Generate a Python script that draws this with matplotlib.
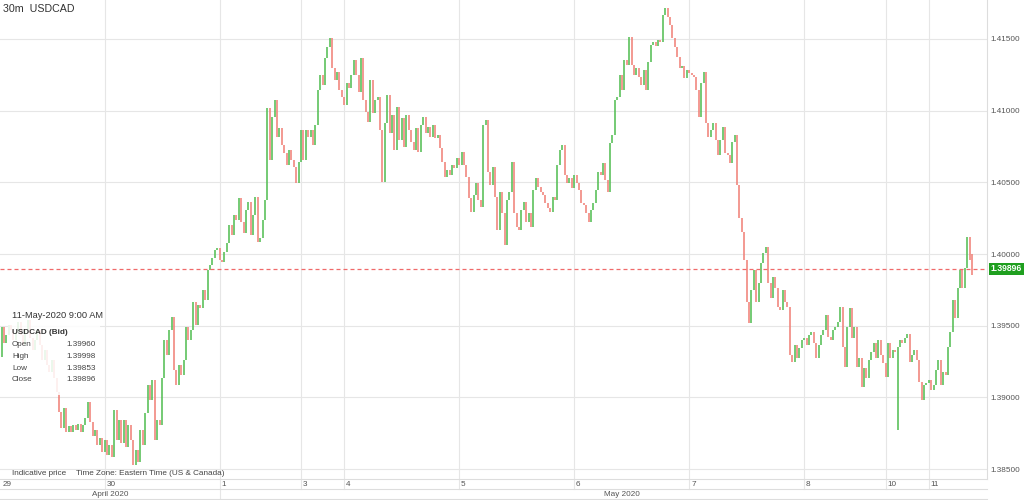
import numpy as np
import matplotlib.pyplot as plt
from matplotlib.patches import Rectangle
from matplotlib.ticker import FormatStrFormatter
from matplotlib.transforms import blended_transform_factory

plt.rcParams['font.family'] = ['Liberation Sans', 'DejaVu Sans']

# ---- 30 minute USDCAD bid closes, one list per trading day ----
apr29 = [1.39491, 1.39381, 1.39435, 1.39505, 1.3947, 1.39402, 1.39456, 1.39526, 1.39435, 1.39367,
         1.3947, 1.3954, 1.39414, 1.39332, 1.39402, 1.3947, 1.39367, 1.39262, 1.39332, 1.39227,
         1.39178, 1.39262, 1.39136, 1.39038, 1.38899, 1.38787, 1.38926, 1.38759, 1.38801, 1.38759,
         1.38808, 1.38773, 1.38815, 1.38759, 1.38808, 1.38857, 1.38968, 1.38829, 1.38731, 1.38773,
         1.38668, 1.38717, 1.38619]
apr30 = [1.38703, 1.38598, 1.38668, 1.38584, 1.38913, 1.38703, 1.38843, 1.38682, 1.38843, 1.38654,
         1.38808, 1.38703, 1.38528, 1.38633, 1.38549, 1.38773, 1.38668, 1.38892, 1.39087, 1.38982,
         1.39122, 1.38703, 1.38843, 1.38808, 1.39136, 1.39402, 1.39297, 1.3947, 1.39561, 1.39192,
         1.39087, 1.39227, 1.39157, 1.39262, 1.39491, 1.39402, 1.3947, 1.39666, 1.39505, 1.39645,
         1.39624, 1.3975, 1.3968, 1.3989, 1.39923, 1.39972, 1.40028, 1.40042]
may1 = [1.39958, 1.39944, 1.40014, 1.40077, 1.40203, 1.40133, 1.40273, 1.40238, 1.4039, 1.40224,
        1.40147, 1.40308, 1.40364, 1.40133, 1.40273, 1.40397, 1.40084, 1.40112, 1.40238, 1.40376,
        1.41018, 1.40656, 1.40955, 1.41074, 1.40817, 1.40878, 1.40761, 1.40705, 1.40621, 1.40726,
        1.40656, 1.40607, 1.40495, 1.40642]
may3 = [1.40865, 1.40656, 1.40865, 1.40817, 1.40865, 1.40761, 1.40899, 1.41144, 1.41249, 1.41179,
        1.41367, 1.41444, 1.41507, 1.41298, 1.41214, 1.4127, 1.41144, 1.41096]
may4 = [1.4104, 1.41193, 1.41158, 1.41249, 1.41354, 1.41249, 1.4113, 1.41367, 1.41074, 1.40991,
        1.40921, 1.41214, 1.40984, 1.41074, 1.41096, 1.40865, 1.40503, 1.40914, 1.4111, 1.40844,
        1.4097, 1.40726, 1.41026, 1.40796, 1.40949, 1.40747, 1.4097, 1.40865, 1.40782, 1.40726,
        1.40879, 1.40712, 1.409, 1.40956, 1.40844, 1.40886, 1.40817, 1.409, 1.4081, 1.40831,
        1.4074, 1.40642, 1.40538, 1.40586, 1.40552, 1.40621, 1.406, 1.4067]
may5 = [1.40621, 1.40712, 1.40621, 1.40538, 1.40391, 1.40294, 1.40412, 1.40496, 1.40377, 1.40328,
        1.409, 1.40935, 1.40573, 1.40482, 1.40607, 1.40398, 1.40168, 1.40433, 1.40287, 1.40063,
        1.40377, 1.40433, 1.40642, 1.40287, 1.40189, 1.40168, 1.40307, 1.40363, 1.40224, 1.40287,
        1.40189, 1.40447, 1.40531, 1.40468, 1.40433, 1.40412, 1.40356, 1.40321, 1.40294, 1.40398,
        1.40377, 1.40621, 1.40726, 1.40761, 1.40552, 1.40496, 1.40531, 1.40461]
may6 = [1.40552, 1.40496, 1.40447, 1.40356, 1.40342, 1.40287, 1.40224, 1.40307, 1.40356, 1.40447,
        1.40573, 1.40552, 1.40635, 1.40517, 1.40433, 1.40775, 1.40831, 1.41074, 1.41096, 1.41249,
        1.41144, 1.41354, 1.41319, 1.41514, 1.41319, 1.41249, 1.41298, 1.41235, 1.41179, 1.41284,
        1.41144, 1.4134, 1.41458, 1.41479, 1.41451, 1.41493, 1.41479, 1.41667, 1.41716, 1.41653,
        1.41598, 1.41507, 1.41444, 1.41375, 1.41298, 1.41312, 1.41228, 1.41284]
may7 = [1.41263, 1.41249, 1.41235, 1.41144, 1.40956, 1.41193, 1.4127, 1.40914, 1.40817, 1.40865,
        1.40914, 1.40796, 1.40691, 1.40796, 1.40886, 1.40705, 1.40691, 1.40635, 1.40782, 1.40831,
        1.40482, 1.40252, 1.40154, 1.39959, 1.39666, 1.39519, 1.3975, 1.39889, 1.39666, 1.39798,
        1.39938, 1.40008, 1.40049, 1.39798, 1.39694, 1.3984, 1.39764, 1.39631, 1.3961, 1.3975,
        1.39666, 1.39631, 1.39296, 1.39247, 1.39366, 1.39275, 1.39345, 1.39401]
may8 = [1.39415, 1.39366, 1.39436, 1.39457, 1.3938, 1.39275, 1.39366, 1.39436, 1.39471, 1.39575,
        1.39422, 1.39401, 1.39471, 1.39492, 1.39526, 1.39631, 1.39352, 1.39213, 1.39492, 1.39624,
        1.39415, 1.39492, 1.39213, 1.39275, 1.39073, 1.39206, 1.39136, 1.39261, 1.39317, 1.3938,
        1.39275, 1.39401, 1.39296, 1.3924]
may10 = [1.39143, 1.3938, 1.39275, 1.39331, 1.39318, 1.39352, 1.39401, 1.3938, 1.39415, 1.39443,
         1.39247, 1.39296, 1.39331, 1.39261, 1.39108, 1.38982, 1.39087, 1.39101]
may11 = [1.39122, 1.39052, 1.39087, 1.39192, 1.39261, 1.39087, 1.39178, 1.39157, 1.39352, 1.39457,
         1.3968, 1.39554, 1.39764, 1.39889, 1.39764, 1.39903, 1.40119, 1.3996, 1.39896]

first_open = 1.39283
# bars whose range goes beyond open/close
spike_idx = [374, 405]
spike_low = [1.38773, 1.39853]
spike_high = [1.39352, 1.39998]

day_labels = ['29', '30', '1', '3', '4', '5', '6', '7', '8', '10', '11']
day_lists = [apr29, apr30, may1, may3, may4, may5, may6, may7, may8, may10, may11]
month_labels = ['April 2020', 'May 2020']
price_ticks = [1.385, 1.390, 1.395, 1.400, 1.405, 1.410, 1.415]
last_price = 1.39896

# ---- build OHLC ----
close = np.concatenate([np.array(d) for d in day_lists])
opens = np.r_[first_open, close[:-1]]
high = np.maximum(opens, close)
low = np.minimum(opens, close)
for i, lo, hi in zip(spike_idx, spike_low, spike_high):
    low[i] = min(low[i], lo)
    high[i] = max(high[i], hi)
idx = np.arange(len(close))
up = close >= opens
day_start = np.cumsum([0] + [len(d) for d in day_lists[:-1]])

# ---- figure ----
W, H = 1024, 500
fig = plt.figure(figsize=(W / 100, H / 100), dpi=100)
ax = fig.add_axes([0, 21 / H, 987 / W, 479 / H])
x0, x1 = -0.63, 411.3
ax.set_xlim(x0, x1)
ax.set_ylim(1.38431, 1.41772)

grid_c = '#e6e6e6'
ax.set_yticks(price_ticks)
ax.yaxis.set_major_formatter(FormatStrFormatter('%.5f'))
ax.yaxis.tick_right()
ax.tick_params(axis='y', length=0, pad=2.5, labelsize=5.9, labelcolor='#555555')
ax.set_xticks([])
ax.grid(axis='y', color=grid_c, lw=0.8)
for s in ['top', 'left']:
    ax.spines[s].set_visible(False)
for s in ['bottom', 'right']:
    ax.spines[s].set_color('#dddddd')
    ax.spines[s].set_linewidth(0.8)

bt = blended_transform_factory(ax.transData, ax.transAxes)
for k, st in enumerate(day_start[1:], start=1):
    yb = -21 / 479 if day_labels[k] == '1' else -10 / 479
    ax.plot([st, st], [yb, 1], transform=bt, color=grid_c, lw=0.8, clip_on=False, zorder=0.5)

# bars
ax.vlines(idx[up], low[up], high[up], colors='#55bf55', lw=1.15, zorder=2)
ax.vlines(idx[~up], low[~up], high[~up], colors='#f08279', lw=1.15, zorder=2)

# last price line and tag
ax.axhline(last_price, color='#f06a6a', lw=0.9, ls=(0, (3.2, 2.4)), zorder=3)
ax.text(1.004, last_price, f'{last_price:.5f}', transform=blended_transform_factory(ax.transAxes, ax.transData),
        ha='left', va='center', fontsize=6.2, color='white', fontweight='bold',
        bbox=dict(boxstyle='square,pad=0.2', fc='#1f9f1f', ec='none'), clip_on=False, zorder=5)

# date band
band_lines = [-10 / 479, -20 / 479]
for yb in band_lines:
    ax.plot([0, 1], [yb, yb], transform=ax.transAxes, color='#dddddd', lw=0.8, clip_on=False)
for k, (lab, st) in enumerate(zip(day_labels, day_start)):
    xp = x0 + 0.9 if k == 0 else st + 0.8
    ax.text(xp, -5.5 / 479, lab, transform=bt, fontsize=5.9, color='#555555',
            ha='left', va='center', clip_on=False)
may_start = day_start[2]
fig_right = x0 + (x1 - x0) * W / 987
month_centers = [(x0 + may_start) / 2, (may_start + fig_right) / 2]
for lab, xc in zip(month_labels, month_centers):
    ax.text(xc, -16 / 479, lab, transform=bt, fontsize=5.9, color='#555555',
            ha='center', va='center', clip_on=False)

# header
fig.text(3 / W, 1 - 8.5 / H, '30m  USDCAD', fontsize=7.7, color='#333333', va='center', ha='left')
fig.text(12 / W, 1 - 473.5 / H, 'Indicative price', fontsize=5.9, color='#444444', va='center')
fig.text(76 / W, 1 - 473.5 / H, 'Time Zone: Eastern Time (US & Canada)', fontsize=5.9,
         color='#444444', va='center')

# tooltip box
fig.add_artist(Rectangle((8 / W, 1 - 395 / H), 92 / W, 90 / H, transform=fig.transFigure,
                         fc='white', ec='none', alpha=0.86, zorder=3))
fig.text(12 / W, 1 - 316 / H, '11-May-2020 9:00 AM', fontsize=6.7, color='#333333', va='center', zorder=4)
fig.text(12 / W, 1 - 332.5 / H, 'USDCAD (Bid)', fontsize=5.9, color='#333333', va='center',
         fontweight='bold', zorder=4)
tip_names = ['Open', 'High', 'Low', 'Close']
tip_values = ['1.39960', '1.39998', '1.39853', '1.39896']
tip_y = [345, 356.5, 368, 379.5]
for nm, val, yy in zip(tip_names, tip_values, tip_y):
    fig.text(12 / W, 1 - yy / H, nm, fontsize=5.9, color='#444444', va='center', zorder=4)
    fig.text(96 / W, 1 - yy / H, val, fontsize=5.9, color='#444444', va='center', ha='right', zorder=4)

fig.savefig('out.png', dpi=100)
